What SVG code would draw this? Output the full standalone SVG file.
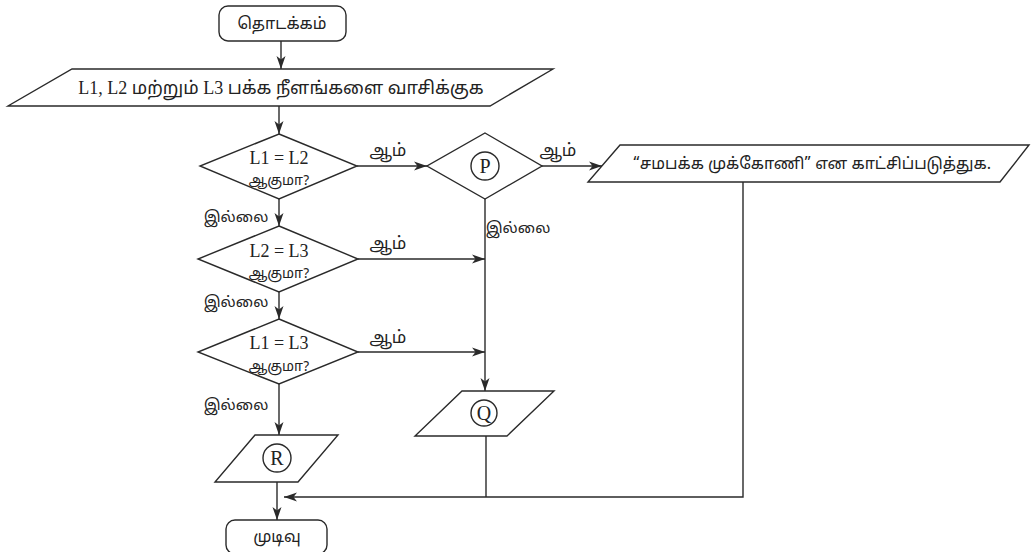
<svg xmlns="http://www.w3.org/2000/svg" width="1031" height="552" viewBox="0 0 1031 552">
  <defs>
    <marker id="arr" markerUnits="userSpaceOnUse" markerWidth="14" markerHeight="10" refX="13" refY="5" orient="auto">
      <path d="M0,0.5 L13,5 L0,9.5 L3.5,5 z" fill="#2a2a2a"/>
    </marker>
    <style>
      .shape { fill: none; stroke: #2a2a2a; stroke-width: 1.4; }
      .line { fill: none; stroke: #2a2a2a; stroke-width: 1.4; }
      .arrow { marker-end: url(#arr); }
      .t { font-family: "Liberation Serif", "Noto Sans Tamil", "Noto Serif Tamil", "Lohit Tamil", "Noto Sans", sans-serif; fill: #222; text-anchor: middle; }
      .ta { font-family: "Noto Sans Tamil", "Lohit Tamil", "Noto Sans", "Liberation Sans", sans-serif; fill: #222; text-anchor: middle; }
      .yes { font-size: 17px; }
      .no { font-size: 15px; }
    </style>
  </defs>
  <rect width="1031" height="552" fill="#ffffff"/>

  <g id="start">
    <rect class="shape" x="219" y="6" width="127" height="35" rx="9"/>
    <text class="ta" x="282" y="29" font-size="16">தொடக்கம்</text>
  </g>

  <g id="input">
    <polygon class="shape" points="72,69 553,69 490,106 8,106"/>
    <text class="t" x="281" y="94" font-size="18">L1, L2 மற்றும் L3 பக்க நீளங்களை வாசிக்குக</text>
  </g>

  <g id="dec1">
    <polygon class="shape" points="279,134 357,166 279,199 200,166"/>
    <text class="t" x="279" y="164" font-size="18">L1 = L2</text>
    <text class="ta" x="279" y="185" font-size="14">ஆகுமா?</text>
  </g>

  <g id="decP">
    <polygon class="shape" points="485,133 542,166 485,199 427,166"/>
    <circle class="shape" cx="485" cy="166" r="14"/>
    <text class="t" x="485" y="173" font-size="20">P</text>
  </g>

  <g id="output">
    <polygon class="shape" points="620,145 1029,145 1000,182 588,182"/>
    <text class="ta" x="812" y="169" font-size="16">“சமபக்க முக்கோணி” என காட்சிப்படுத்துக.</text>
  </g>

  <g id="dec2">
    <polygon class="shape" points="279,226 358,259 279,292 198,259"/>
    <text class="t" x="279" y="257" font-size="18">L2 = L3</text>
    <text class="ta" x="279" y="278" font-size="14">ஆகுமா?</text>
  </g>

  <g id="dec3">
    <polygon class="shape" points="279,319 358,352 279,384 198,352"/>
    <text class="t" x="279" y="349" font-size="18">L1 = L3</text>
    <text class="ta" x="279" y="371" font-size="14">ஆகுமா?</text>
  </g>

  <g id="outQ">
    <polygon class="shape" points="462,391 554,391 507,436 415,436"/>
    <circle class="shape" cx="484" cy="413" r="13"/>
    <text class="t" x="484" y="420" font-size="20">Q</text>
  </g>

  <g id="outR">
    <polygon class="shape" points="255,435 338,435 298,482 215,482"/>
    <circle class="shape" cx="277" cy="458" r="14"/>
    <text class="t" x="277" y="465" font-size="20">R</text>
  </g>

  <g id="end">
    <rect class="shape" x="226" y="520" width="101" height="34" rx="9"/>
    <text class="ta" x="277" y="542" font-size="16">முடிவு</text>
  </g>

  <g id="connectors">
    <line class="line arrow" x1="281" y1="41" x2="281" y2="69"/>
    <line class="line arrow" x1="279" y1="106" x2="279" y2="134"/>
    <line class="line arrow" x1="357" y1="166" x2="427" y2="166"/>
    <line class="line arrow" x1="542" y1="166" x2="602" y2="166"/>
    <line class="line arrow" x1="279" y1="199" x2="279" y2="226"/>
    <line class="line arrow" x1="279" y1="292" x2="279" y2="319"/>
    <line class="line arrow" x1="358" y1="259" x2="485" y2="259"/>
    <line class="line arrow" x1="358" y1="352" x2="485" y2="352"/>
    <line class="line arrow" x1="485" y1="199" x2="485" y2="391"/>
    <line class="line arrow" x1="279" y1="384" x2="279" y2="435"/>
    <line class="line arrow" x1="277" y1="482" x2="277" y2="520"/>
    <line class="line" x1="486" y1="436" x2="486" y2="497"/>
    <polyline class="line arrow" points="743,182 743,497 284,497"/>
    <text class="ta yes" x="388" y="156">ஆம்</text>
    <text class="ta yes" x="558" y="156">ஆம்</text>
    <text class="ta yes" x="388" y="249">ஆம்</text>
    <text class="ta yes" x="388" y="343">ஆம்</text>
    <text class="ta no" x="236" y="222">இல்லை</text>
    <text class="ta no" x="236" y="307">இல்லை</text>
    <text class="ta no" x="236" y="410">இல்லை</text>
    <text class="ta no" x="518" y="233">இல்லை</text>
  </g>
</svg>
